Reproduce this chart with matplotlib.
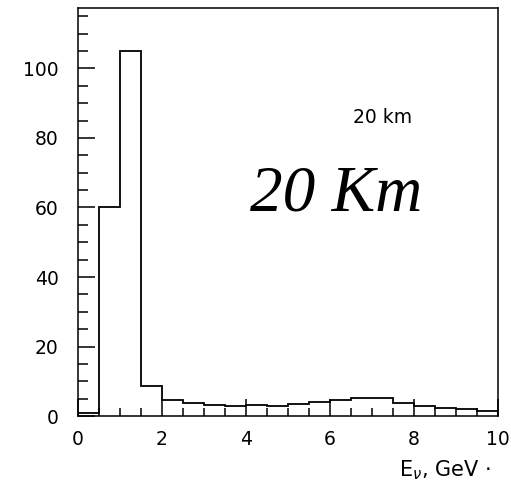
import numpy as np
import matplotlib
matplotlib.use("Agg")
import matplotlib.pyplot as plt
from matplotlib.ticker import MultipleLocator

# bin edges (GeV) and event counts
bin_edges = np.arange(0, 10.01, 0.5)
counts = [1.0, 60, 105, 8.6, 4.5, 3.7, 3.2, 2.8, 3.3, 3.0,
          3.5, 3.9, 4.5, 5.2, 5.2, 3.8, 2.9, 2.3, 1.9, 1.4]
x_ticks = [0, 2, 4, 6, 8, 10]
y_ticks = [0, 20, 40, 60, 80, 100]

fig = plt.figure(figsize=(5.11, 4.91), dpi=100)
ax = fig.add_axes([0.1526, 0.1527, 0.822, 0.831])

ax.stairs(counts, bin_edges, color='k', linewidth=1.3, baseline=0)

ax.set_xlim(0, 10)
ax.set_ylim(0, 117.4)
ax.set_xticks(x_ticks)
ax.set_yticks(y_ticks)
ax.xaxis.set_minor_locator(MultipleLocator(0.5))
ax.yaxis.set_minor_locator(MultipleLocator(5))

ax.tick_params(axis='both', which='both', direction='in', width=1.1,
               top=False, right=False, labelsize=13.5)
ax.tick_params(axis='x', which='major', length=12, pad=10)
ax.tick_params(axis='x', which='minor', length=5.5)
ax.tick_params(axis='y', which='major', length=12, pad=14)
ax.tick_params(axis='y', which='minor', length=7)

for sp in ax.spines.values():
    sp.set_linewidth(1.1)

ax.text(7.25, 86, "20 km", fontsize=13.5, ha='center', va='center')
ax.text(4.1, 59, "20 Km", fontsize=47, family='Liberation Serif',
        style='italic', ha='left', va='baseline')

ax.text(0.983, -0.132, r"E$_{\nu}$, GeV $\cdot$", transform=ax.transAxes,
        fontsize=15, ha='right', va='center')

fig.savefig("out.png", dpi=100)
